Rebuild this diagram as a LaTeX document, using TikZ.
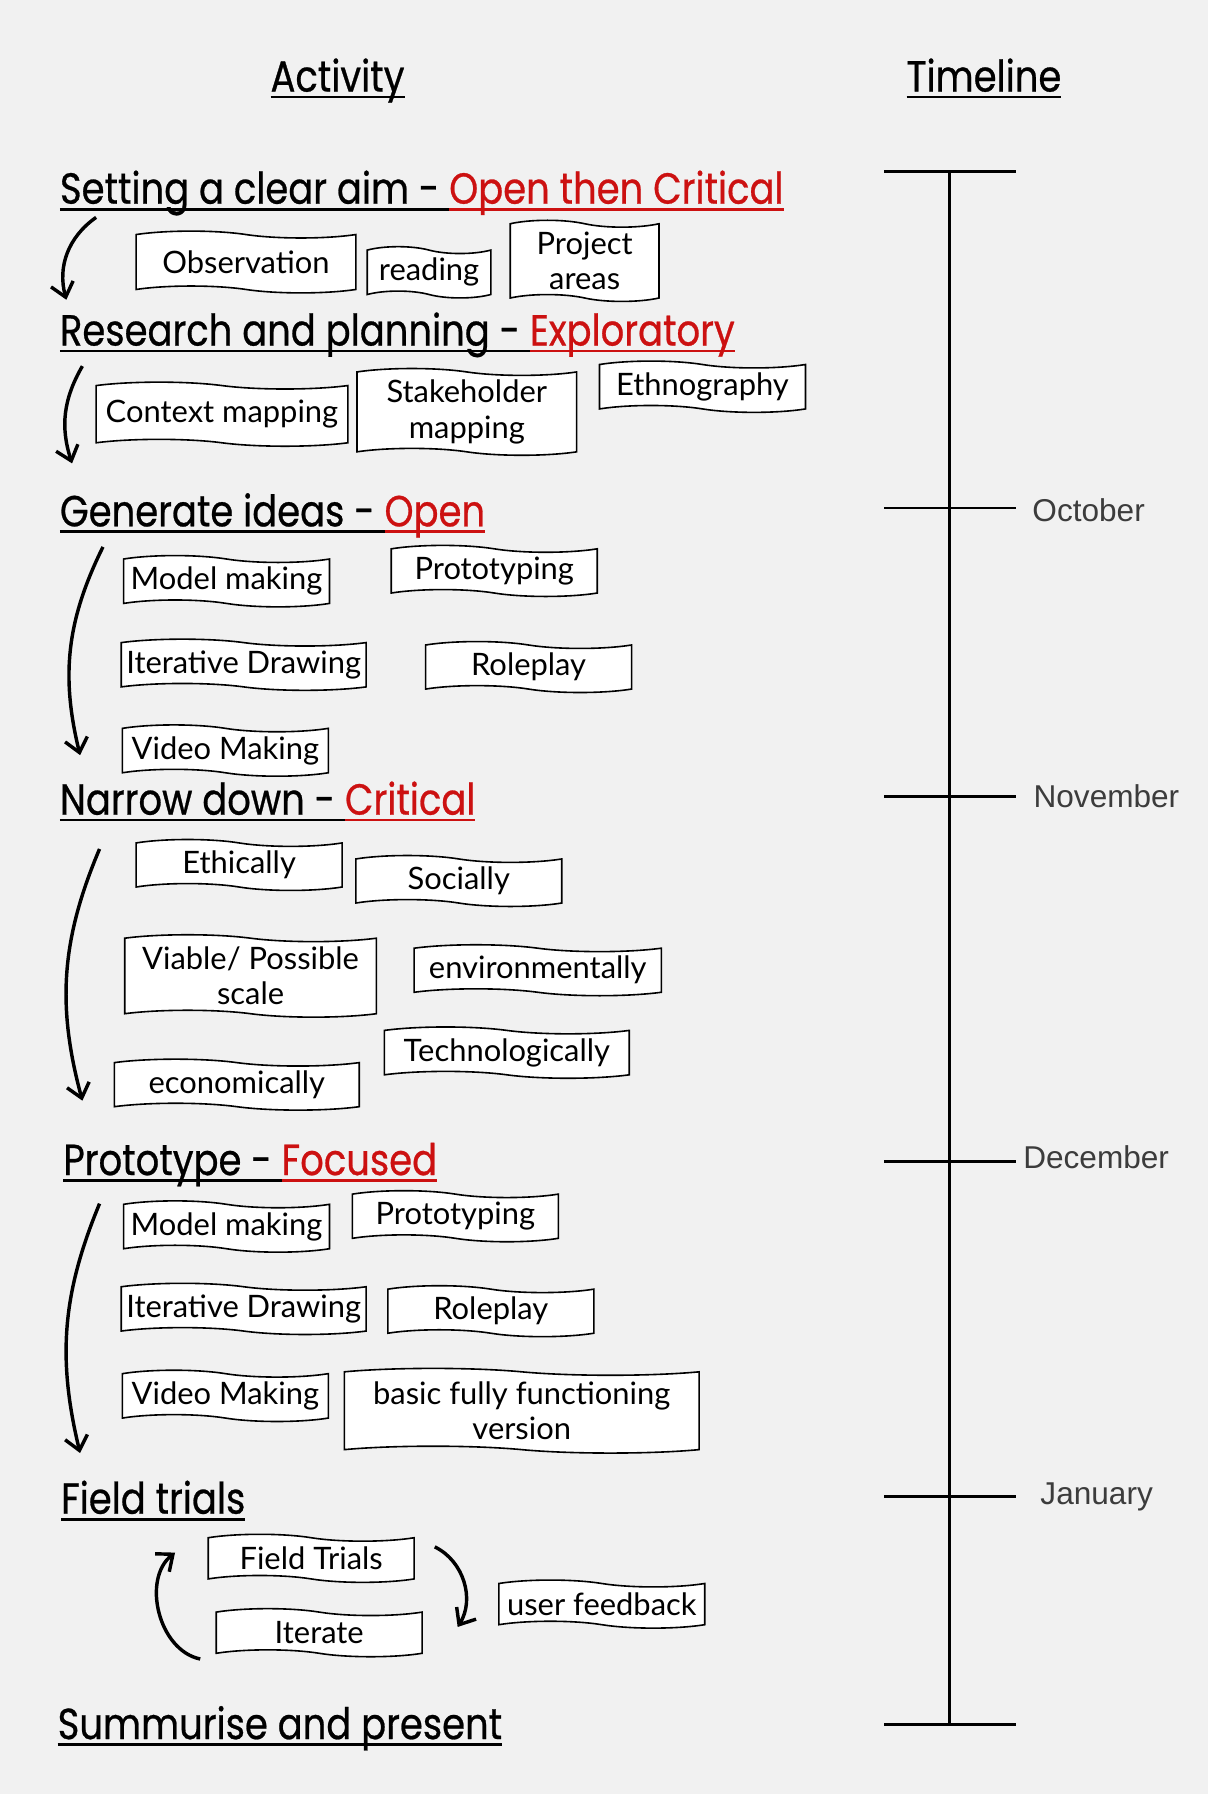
\documentclass[tikz,border=0pt]{standalone}
\usepackage{fontspec}
\usetikzlibrary{positioning,shapes.symbols,arrows.meta}

\newfontfamily\headfont[FakeStretch=0.85, FakeBold=0.6]{Poppins}
\newfontfamily\cardfont{Lato}
\newfontfamily\monthfont{Liberation Sans}
\definecolor{crit}{RGB}{204,17,17}
\definecolor{paper}{RGB}{241,241,241}
\definecolor{monthgray}{RGB}{60,60,60}
\newcommand{\hdul}[1]{\setbox0=\hbox{#1}\rlap{\rule[-3pt]{\wd0}{1.2pt}}\box0}

\begin{document}
\begin{tikzpicture}[x=0.5pt, y=-0.5pt,
	head/.style={font=\headfont\fontsize{19}{22}\selectfont, anchor=base west, inner sep=0},
	coltitle/.style={head, anchor=base},
	card/.style={tape, tape bend top=out and in, tape bend bottom=out and in, tape bend height=3pt,
		draw, line width=0.7pt, fill=white, align=center, inner sep=2pt,
		minimum width=90pt, minimum height=21pt, font=\cardfont\fontsize{13.5}{15.5}\selectfont},
	month/.style={font=\monthfont\fontsize{13.8}{16}\selectfont, text=monthgray, inner sep=0},
	flow/.style={-{Straight Barb[length=6pt,width=10pt]}, line width=1.5pt},
	tl/.style={line width=1.3pt}]

		\fill[paper] (0,0) rectangle (1056,1568);
		\useasboundingbox (0,0) rectangle (1056,1568);

		% column titles
		\node[coltitle] (act) at (295,80) {\hdul{Activity}};
		\node[coltitle] (tim) at (860,80) {\hdul{Timeline}};

		% stages
		\node[head] (aim) at (52,178) {\hdul{Setting a clear aim - }{\color{crit}\hdul{Open then Critical}}};
		\node[head] (res) at (52,302) {\hdul{Research and planning - }{\color{crit}\hdul{Exploratory}}};
		\node[head] (gen) at (52,460) {\hdul{Generate ideas - }{\color{crit}\hdul{Open}}};
		\node[head] (nar) at (52,712) {\hdul{Narrow down - }{\color{crit}\hdul{Critical}}};
		\node[head] (pro) at (55,1027) {\hdul{Prototype - }{\color{crit}\hdul{Focused}}};
		\node[head] (fld) at (53,1323) {\hdul{Field trials}};
		\node[head] (sum) at (50,1520) {\hdul{Summurise and present}};

		% aim
		\node[card, minimum width=96pt, minimum height=27pt] (obs) at (215,229) {Observation};
		\node[card, minimum width=54pt, minimum height=20pt] (rdg) at (375,238) {reading};
		\node[card, minimum width=65pt, minimum height=33pt] (prj) at (511,228) {Project\\areas};

		% research
		\node[card, minimum width=110pt, minimum height=28pt] (ctx) at (194,362) {Context mapping};
		\node[card, minimum width=96pt, minimum height=37pt] (stk) at (408,360) {Stakeholder\\mapping};
		\node[card] (eth) at (614,338) {Ethnography};

		% generate
		\node[card] (mdl) at (198,508) {Model making};
		\node[card] (prt) at (432,499) {Prototyping};
		\node[card, minimum width=107pt] (itr) at (213,581) {Iterative Drawing};
		\node[card] (rol) at (462,583) {Roleplay};
		\node[card] (vid) at (197,656) {Video Making};

		% narrow down
		\node[card] (ethc) at (209,756) {Ethically};
		\node[card] (soc) at (401,770) {Socially};
		\node[card, minimum width=110pt, minimum height=36pt] (via) at (219,853) {Viable/ Possible\\scale};
		\node[card, minimum width=108pt] (env) at (470,848) {environmentally};
		\node[card, minimum width=107pt] (tech) at (443,920) {Technologically};
		\node[card, minimum width=107pt] (eco) at (207,948) {economically};

		% prototype
		\node[card] (mdl2) at (198,1072) {Model making};
		\node[card] (prt2) at (398,1063) {Prototyping};
		\node[card, minimum width=107pt] (itr2) at (213,1144) {Iterative Drawing};
		\node[card] (rol2) at (429,1146) {Roleplay};
		\node[card] (vid2) at (197,1220) {Video Making};
		\node[card, minimum width=155pt, minimum height=37pt] (bas) at (456,1233) {basic fully functioning\\version};

		% field trials
		\node[card] (ftr) at (272,1362) {Field Trials};
		\node[card] (itt) at (279,1427) {Iterate};
		\node[card] (usr) at (526,1402) {user feedback};

		% stage arrows
		\coordinate (s1) at (84,190);
		\coordinate (e1) at (58,262);
		\coordinate (s2) at (72,320);
		\coordinate (e2) at (63,405);
		\coordinate (s3) at (90,478);
		\coordinate (e3) at (70,660);
		\coordinate (s4) at (87,742);
		\coordinate (e4) at (72,962);
		\coordinate (s5) at (87,1052);
		\coordinate (e5) at (70,1270);
		\coordinate (cl1) at (175,1450);
		\coordinate (cl2) at (153,1357);
		\coordinate (cr1) at (380,1352);
		\coordinate (cr2) at (400,1422);

		\path[flow] (s1) edge[bend right=35] (e1);
		\path[flow] (s2) edge[bend right=24] (e2);
		\path[flow] (s3) edge[bend right=20] (e3);
		\path[flow] (s4) edge[bend right=19] (e4);
		\path[flow] (s5) edge[bend right=18] (e5);
		\path[flow] (cl1) edge[bend left=65] (cl2);
		\path[flow] (cr1) edge[bend left=48] (cr2);

		% timeline
		\coordinate (ttop) at (830,150);
		\coordinate (tbot) at (830,1507);
		\draw[tl] (ttop) -- (tbot);
		\foreach \y/\n in {150/t0, 444/t1, 696/t2, 1015/t3, 1308/t4, 1507/t5} {
			\draw[tl] (773,\y) -- (888,\y);
			\coordinate (\n) at (888,\y);
		}
		\node[month, right=7pt of t1, yshift=-1pt] (oct) {October};
		\node[month, right=7.5pt of t2] (nov) {November};
		\node[month, right=3pt of t3, yshift=2pt] (dec) {December};
		\node[month, right=10.5pt of t4] (jan) {January};
	\end{tikzpicture}
\end{document}
